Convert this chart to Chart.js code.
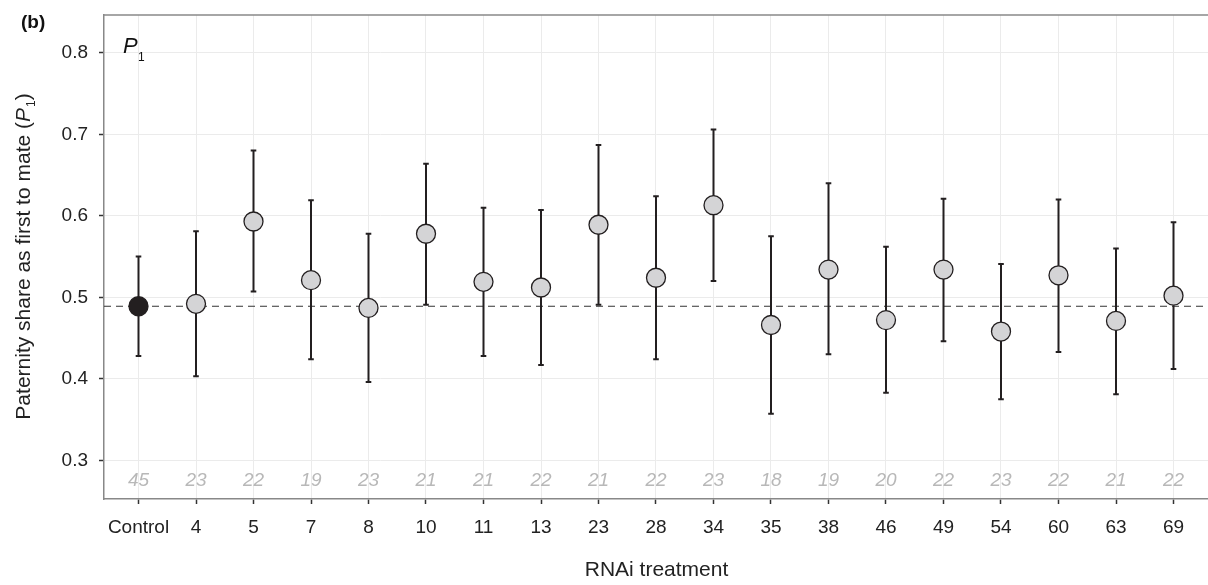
<!DOCTYPE html>
<html>
<head>
<meta charset="utf-8">
<script src="https://cdn.jsdelivr.net/npm/chart.js@4"></script>
<style>
html,body{margin:0;padding:0;background:#fff;overflow:hidden;}
canvas{display:block;}
</style>
</head>
<body>
<canvas id="c" width="1208" height="585"></canvas>
<script>
const categories = ['Control','4','5','7','8','10','11','13','23','28','34','35','38','46','49','54','60','63','69'];
const means = [0.489,0.492,0.593,0.521,0.487,0.578,0.519,0.512,0.589,0.524,0.613,0.466,0.534,0.472,0.534,0.458,0.527,0.471,0.502];
const upper = [0.550,0.581,0.680,0.619,0.578,0.664,0.610,0.607,0.687,0.624,0.706,0.575,0.640,0.562,0.621,0.541,0.620,0.560,0.592];
const lower = [0.428,0.403,0.507,0.424,0.396,0.491,0.428,0.417,0.491,0.424,0.520,0.357,0.430,0.383,0.446,0.375,0.433,0.381,0.412];
const sampleSizes = [45,23,22,19,23,21,21,22,21,22,23,18,19,20,22,23,22,21,22];
const controlLine = 0.489;
const yTicks = [0.3,0.4,0.5,0.6,0.7,0.8];

const FONT = '"Liberation Sans", Arial, Helvetica, sans-serif';

const decor = {
  id: 'decor',
  afterDatasetDraw(chart, args) {
    if (args.index !== 0) return;
    const ctx = chart.ctx, xs = chart.scales.x, ys = chart.scales.y;
    ctx.save();
    ctx.strokeStyle = '#231f20';
    ctx.lineWidth = 2;
    categories.forEach((c, i) => {
      const px = xs.getPixelForValue(i);
      const pu = ys.getPixelForValue(upper[i]);
      const pl = ys.getPixelForValue(lower[i]);
      ctx.beginPath();
      ctx.moveTo(px, pu); ctx.lineTo(px, pl);
      ctx.moveTo(px - 2.8, pu); ctx.lineTo(px + 2.8, pu);
      ctx.moveTo(px - 2.8, pl); ctx.lineTo(px + 2.8, pl);
      ctx.stroke();
    });
    ctx.restore();
  },
  afterDraw(chart) {
    const ctx = chart.ctx, xs = chart.scales.x, ca = chart.chartArea;
    ctx.save();
    // top border
    ctx.strokeStyle = '#888';
    ctx.lineWidth = 1.5;
    ctx.beginPath();
    ctx.moveTo(ca.left - 0.75, ca.top); ctx.lineTo(ca.right, ca.top);
    ctx.stroke();
    // (b)
    ctx.fillStyle = '#111';
    ctx.textBaseline = 'alphabetic';
    ctx.textAlign = 'left';
    ctx.font = 'bold 19px ' + FONT;
    ctx.fillText('(b)', 21, 28);
    // P1 label in panel
    ctx.font = 'italic 22px ' + FONT;
    ctx.fillText('P', 123, 52.5);
    ctx.font = '12px ' + FONT;
    ctx.fillText('1', 138, 61);
    // sample sizes
    ctx.font = 'italic 19px ' + FONT;
    ctx.fillStyle = '#b8b8b8';
    ctx.textAlign = 'center';
    ctx.textBaseline = 'middle';
    sampleSizes.forEach((n, i) => {
      ctx.fillText(String(n), xs.getPixelForValue(i), 481);
    });
    // x title
    ctx.fillStyle = '#222';
    ctx.font = '21px ' + FONT;
    ctx.textBaseline = 'alphabetic';
    ctx.fillText('RNAi treatment', (ca.left + 1209) / 2, 576);
    // y title
    const parts = [
      {t: 'Paternity share as first to mate (', f: '21px ' + FONT, dy: 0},
      {t: 'P', f: 'italic 21px ' + FONT, dy: 0},
      {t: '1', f: '12px ' + FONT, dy: 5},
      {t: ')', f: '21px ' + FONT, dy: 0}
    ];
    let total = 0;
    parts.forEach(p => { ctx.font = p.f; p.w = ctx.measureText(p.t).width; total += p.w; });
    ctx.translate(30, (ca.top + ca.bottom) / 2);
    ctx.rotate(-Math.PI / 2);
    ctx.textAlign = 'left';
    let x = -total / 2;
    parts.forEach(p => { ctx.font = p.f; ctx.fillText(p.t, x, p.dy); x += p.w + (p.t === 'P' ? 1 : 0); });
    ctx.restore();
  }
};

function zeroPad(s) { s.paddingLeft = 0; s.paddingRight = 0; s.paddingTop = 0; s.paddingBottom = 0; }

new Chart(document.getElementById('c'), {
  data: {
    datasets: [
      {
        type: 'line',
        data: [{x: -0.6, y: controlLine}, {x: 18.6, y: controlLine}],
        borderColor: '#333',
        borderWidth: 1,
        borderDash: [7, 5],
        pointRadius: 0,
        order: 2
      },
      {
        type: 'scatter',
        data: means.map((m, i) => ({x: i, y: m})),
        pointRadius: 9.5,
        pointBorderWidth: 1.3,
        pointBackgroundColor: means.map((m, i) => i === 0 ? '#231f20' : '#d4d4d6'),
        pointBorderColor: '#231f20',
        order: 0
      }
    ]
  },
  options: {
    responsive: false,
    animation: false,
    devicePixelRatio: 1,
    layout: {autoPadding: false, padding: {top: 15, right: 0, bottom: 0, left: 0}},
    plugins: {legend: {display: false}, tooltip: {enabled: false}},
    scales: {
      x: {
        type: 'linear',
        min: -0.6,
        max: 18.6,
        afterBuildTicks: s => { s.ticks = categories.map((c, i) => ({value: i})); },
        afterFit: s => { s.height = 86; zeroPad(s); },
        ticks: {
          callback: (v) => categories[v],
          font: {size: 19, family: FONT},
          color: '#222',
          padding: 12,
          autoSkip: false,
          maxRotation: 0
        },
        grid: {color: '#ebebeb', lineWidth: 1, tickColor: '#333', tickLength: 5, tickWidth: 1.5},
        border: {display: true, color: '#888', width: 1.5}
      },
      y: {
        type: 'linear',
        min: 0.2525,
        max: 0.8464,
        afterBuildTicks: s => { s.ticks = yTicks.map(v => ({value: v})); },
        afterFit: s => { s.width = 104; zeroPad(s); },
        ticks: {
          callback: (v) => v.toFixed(1),
          font: {size: 19, family: FONT},
          color: '#222',
          padding: 11
        },
        grid: {color: '#ebebeb', lineWidth: 1, tickColor: '#333', tickLength: 5, tickWidth: 1.5},
        border: {display: true, color: '#888', width: 1.5}
      }
    }
  },
  plugins: [decor]
});
</script>
</body>
</html>
